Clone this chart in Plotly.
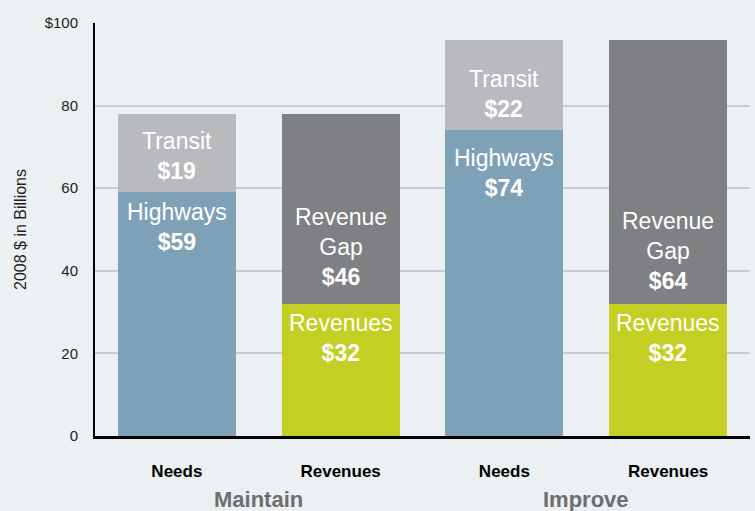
import plotly.graph_objects as go

# ---- data ----
categories = ["Needs", "Revenues", "Needs", "Revenues"]
groups = ["Maintain", "Improve"]
needs_highways = [59, 74]
needs_transit = [19, 22]
revenues_current = [32, 32]
revenue_gap = [46, 64]
y_tickvals = [0, 20, 40, 60, 80, 100]
y_ticktext = ["0", "20", "40", "60", "80", "$100"]

# ---- style ----
C_HWY = "#7fa1b7"
C_TRANSIT = "#b9babe"
C_GAP = "#7f8084"
C_REV = "#c3cf22"
BG = "#ebf0f3"
FONT = "Liberation Sans, Arial, sans-serif"

needs_x = [0, 2]
rev_x = [1, 3]

fig = go.Figure()
fig.add_bar(x=needs_x, y=needs_highways, marker_color=C_HWY, marker_line_width=0,
            name="Highways", hoverinfo="y")
fig.add_bar(x=needs_x, y=needs_transit, marker_color=C_TRANSIT, marker_line_width=0,
            name="Transit", hoverinfo="y")
fig.add_bar(x=rev_x, y=revenues_current, marker_color=C_REV, marker_line_width=0,
            name="Revenues", hoverinfo="y")
fig.add_bar(x=rev_x, y=revenue_gap, marker_color=C_GAP, marker_line_width=0,
            name="Revenue Gap", hoverinfo="y")

annos = []
lab_font = dict(family=FONT, size=23, color="white")

def seg_label(x, top, name, val, shift):
    annos.append(dict(x=x, y=top, xref="x", yref="y", yanchor="top", xanchor="center",
                      yshift=shift, showarrow=False, align="center",
                      text=f"{name}<br><b>${val}</b>", font=lab_font))

hwy_shift = [-5, -13]
tr_shift = [-12, -24]
rev_shift = [-4, -4]
gap_shift = [-88, -166]
for i in range(2):
    seg_label(needs_x[i], needs_highways[i], "Highways", needs_highways[i], hwy_shift[i])
    seg_label(needs_x[i], needs_highways[i] + needs_transit[i], "Transit", needs_transit[i], tr_shift[i])
    seg_label(rev_x[i], revenues_current[i], "Revenues", revenues_current[i], rev_shift[i])
    seg_label(rev_x[i], revenues_current[i] + revenue_gap[i], "Revenue<br>Gap", revenue_gap[i], gap_shift[i])

# group labels
for gi, g in enumerate(groups):
    annos.append(dict(x=(needs_x[gi] + rev_x[gi]) / 2, y=0, xref="x", yref="paper",
                      yanchor="top", yshift=-49, showarrow=False, text=f"<b>{g}</b>",
                      font=dict(family=FONT, size=22, color="#6d6e71")))

fig.update_layout(
    width=755, height=511,
    margin=dict(l=95, r=5, t=23, b=75),
    paper_bgcolor=BG, plot_bgcolor=BG,
    barmode="stack", bargap=0.28,
    showlegend=False,
    annotations=annos,
    font=dict(family=FONT, color="#231f20"),
    xaxis=dict(
        range=[-0.5, 3.5], tickvals=list(range(len(categories))), ticktext=[f"<b>{c}</b>" for c in categories],
        tickfont=dict(family=FONT, size=17, color="black"), ticks="", showgrid=False,
        showline=True, linecolor="black", linewidth=3, zeroline=False, ticklabelstandoff=18,
    ),
    yaxis=dict(
        range=[0, 100], tickvals=y_tickvals, ticktext=y_ticktext,
        tickfont=dict(family=FONT, size=15, color="#231f20"), ticks="",
        showgrid=True, gridcolor="#c9cbcd", gridwidth=1.5,
        showline=True, linecolor="black", linewidth=2, zeroline=False, ticklabelstandoff=12,
        title=dict(text="2008 $ in Billions", font=dict(family=FONT, size=16, color="#231f20"), standoff=14),
    ),
)

fig.write_html("out.html", config={"displayModeBar": False},
               post_script="document.body.style.margin='0';document.body.style.padding='0';")
